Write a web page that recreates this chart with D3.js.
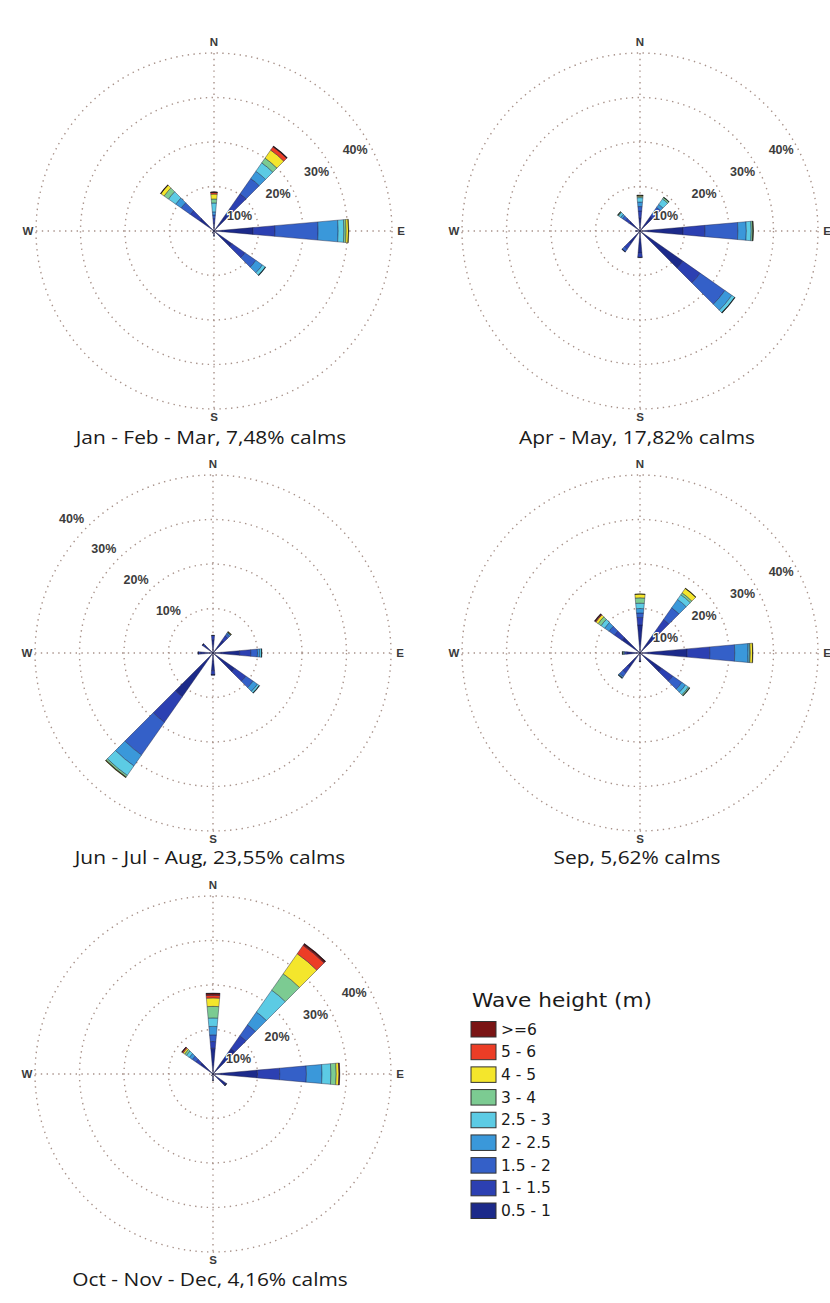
<!DOCTYPE html>
<html><head><meta charset="utf-8">
<script src="https://cdn.jsdelivr.net/npm/d3@7"></script>
<style>body{margin:0;background:#fff}svg{display:block}</style>
</head><body>
<svg id="c" width="830" height="1303"></svg>
<script>
// ---- data ----
const directions = ["N","NE","E","SE","S","SW","W","NW"];
const dirAngles = [0, 40, 90, 130, 180, 220, 270, 310];
const heightClasses = ["0.5 - 1","1 - 1.5","1.5 - 2","2 - 2.5","2.5 - 3","3 - 4","4 - 5","5 - 6",">=6"];
const classColors = ["#1c2a8a","#2c40b2","#3460c8","#3a98da","#5ccbe4","#7ccb92","#f4e62c","#ec3d26","#7a1414"];
const ringTicks = [10, 20, 30, 40];
const ringTickLabels = ["10%","20%","30%","40%"];
const compassLabels = ["N","E","S","W"];

// percent per direction (rows) per wave height class (cols)
const janFebMar = [
  [1.8, 1.0, 0.8, 0.7, 2.0, 0.9, 1.1, 0.4, 0.1],
  [6.0, 4.2, 4.2, 2.0, 2.3, 1.3, 2.2, 0.9, 0.2],
  [8.8, 4.9, 9.7, 4.5, 1.3, 0.5, 0.6, 0, 0],
  [5.0, 3.5, 3.0, 1.8, 0.9, 0, 0, 0, 0],
  [1.0, 0.2, 0, 0, 0, 0, 0, 0, 0],
  [0.6, 0, 0, 0, 0, 0, 0, 0, 0],
  [0.3, 0, 0, 0, 0, 0, 0, 0, 0],
  [4.0, 2.5, 2.5, 1.5, 2.0, 1.2, 0.9, 0.1, 0]
];
const aprMay = [
  [3.0, 1.5, 1.0, 1.0, 1.0, 0.3, 0.3, 0, 0],
  [4.0, 1.5, 1.0, 0.8, 1.5, 0.5, 0, 0, 0],
  [9.7, 4.9, 7.4, 1.9, 1.1, 0.4, 0.1, 0, 0],
  [11.8, 4.7, 6.8, 1.9, 0.8, 0.1, 0, 0, 0],
  [5.0, 1.0, 0, 0, 0, 0, 0, 0, 0],
  [3.5, 1.5, 0.8, 0, 0, 0, 0, 0, 0],
  [1.0, 0, 0, 0, 0, 0, 0, 0, 0],
  [3.0, 1.0, 0.8, 0.5, 0.6, 0.3, 0, 0, 0]
];
const junJulAug = [
  [3.0, 1.0, 0, 0, 0, 0, 0, 0, 0],
  [3.5, 1.2, 0.6, 0.3, 0, 0.1, 0.2, 0, 0],
  [6.0, 2.5, 1.5, 0.5, 0.5, 0, 0, 0, 0],
  [6.0, 3.0, 2.0, 1.2, 0.6, 0, 0, 0, 0],
  [4.0, 1.0, 0, 0, 0, 0, 0, 0, 0],
  [12.0, 7.0, 9.0, 3.0, 2.6, 0.4, 0.2, 0, 0],
  [2.8, 0.6, 0, 0, 0, 0, 0, 0, 0],
  [2.4, 0.6, 0, 0, 0, 0, 0, 0, 0]
];
const sep = [
  [6.3, 1.7, 1.0, 1.0, 1.2, 1.2, 0.9, 0, 0],
  [5.0, 4.2, 3.2, 2.3, 1.3, 0.5, 1.3, 0, 0],
  [10.6, 5.1, 5.6, 3.0, 0.3, 0.2, 0.6, 0, 0],
  [6.0, 3.0, 2.5, 1.0, 0.8, 0.4, 0, 0, 0],
  [2.0, 0, 0, 0, 0, 0, 0, 0, 0],
  [4.0, 1.5, 1.0, 0.3, 0.2, 0, 0, 0, 0],
  [3.0, 0.5, 0, 0, 0.2, 0.3, 0, 0, 0],
  [5.0, 2.0, 1.5, 1.2, 1.0, 0.8, 0.6, 0.2, 0.2]
];
const octNovDec = [
  [5.8, 1.5, 1.5, 1.9, 1.9, 2.6, 1.9, 0.6, 0.5],
  [7.0, 3.5, 3.0, 3.5, 6.0, 4.5, 5.5, 2.3, 0.5],
  [10.0, 5.0, 6.0, 3.5, 2.0, 1.2, 0.6, 0.2, 0],
  [3.5, 0.3, 0, 0, 0, 0, 0, 0, 0],
  [1.5, 0, 0, 0, 0, 0, 0, 0, 0],
  [0.5, 0, 0, 0, 0, 0, 0, 0, 0],
  [0.3, 0, 0, 0, 0, 0, 0, 0, 0],
  [3.5, 1.2, 1.0, 0.8, 0.8, 0.5, 0.4, 0.3, 0.1]
];
const seasonTitles = ["Jan - Feb - Mar, 7,48% calms","Apr - May, 17,82% calms","Jun - Jul - Aug, 23,55% calms","Sep, 5,62% calms","Oct - Nov - Dec, 4,16% calms"];
const seasonData = [janFebMar, aprMay, junJulAug, sep, octNovDec];
const legendTitle = "Wave height (m)";

// ---- layout ----
const roses = [
  {cx:214, cy:231, ty:444, lab:{ang:30, off:-15}},
  {cx:640, cy:231, ty:444, lab:{ang:30, off:-15}},
  {cx:213, cy:653, ty:864, lab:{ang:136.5, off:17}},
  {cx:640, cy:653, ty:864, lab:{ang:30, off:-15}},
  {cx:213, cy:1074, ty:1286, lab:{ang:30, off:-15}}
];
const R = 178;
const r = d3.scaleLinear().domain([0, 40]).range([0, R]);
const halfW = 5 * Math.PI / 180;

const svg = d3.select("#c");
const gridColor = "#a8928a";
const dots = "1.4,4.4";

roses.forEach((ro, i) => {
  const g = svg.append("g").attr("transform", `translate(${ro.cx},${ro.cy})`);
  // rings
  g.selectAll("circle.ring").data(ringTicks).join("circle")
    .attr("r", d => r(d)).attr("fill", "none")
    .attr("stroke", gridColor).attr("stroke-width", 1.4)
    .attr("stroke-dasharray", dots);
  // cross lines
  g.append("line").attr("x1", -R).attr("x2", R).attr("y1", 0).attr("y2", 0)
    .attr("stroke", gridColor).attr("stroke-width", 1.4).attr("stroke-dasharray", dots);
  g.append("line").attr("y1", -R).attr("y2", R).attr("x1", 0).attr("x2", 0)
    .attr("stroke", gridColor).attr("stroke-width", 1.4).attr("stroke-dasharray", dots);
  // compass labels
  const cpos = {N:[0,-189], E:[187,0], S:[0,186], W:[-186,0]};
  g.selectAll("text.cmp").data(compassLabels).join("text")
    .attr("x", d => cpos[d][0]).attr("y", d => cpos[d][1])
    .attr("text-anchor", "middle").attr("dominant-baseline", "central")
    .attr("font-family", "Liberation Sans, Arial, sans-serif").attr("font-size", 11.5)
    .attr("font-weight", "bold").attr("fill", "#3a3a3a").text(d => d);

  // bars
  const data = seasonData[i];
  const arc = d3.arc();
  data.forEach((row, di) => {
    const a = dirAngles[di] * Math.PI / 180;
    let cum = 0;
    const segs = [];
    row.forEach((v, ci) => {
      if (v > 0) { segs.push({inner: cum, outer: cum + v, ci}); }
      cum += v;
    });
    g.selectAll(null).data(segs).join("path")
      .attr("d", s => arc({innerRadius: r(s.inner), outerRadius: r(s.outer), startAngle: a - halfW, endAngle: a + halfW}))
      .attr("fill", s => classColors[s.ci])
      .attr("stroke", "#1b1b3a").attr("stroke-width", 0.6).attr("stroke-opacity", 0.7);
    if (segs.length) {
      const tot = cum;
      g.append("path")
        .attr("d", d3.arc()({innerRadius: r(tot) - 0.8, outerRadius: r(tot), startAngle: a - halfW, endAngle: a + halfW}))
        .attr("fill", "#1a1a1a");
    }
  });

  // ring labels
  const la = ro.lab.ang * Math.PI / 180;
  g.selectAll("text.rl").data(ringTicks).join("text")
    .attr("x", d => (r(d) + ro.lab.off) * Math.cos(la))
    .attr("y", d => -(r(d) + ro.lab.off) * Math.sin(la))
    .attr("text-anchor", "middle").attr("dominant-baseline", "central")
    .attr("font-family", "Liberation Sans, Arial, sans-serif").attr("font-size", 12.5)
    .attr("font-weight", "bold").attr("fill", "#3c3c3c")
    .attr("stroke", "#fff").attr("stroke-width", 2).attr("paint-order", "stroke")
    .text((d, k) => ringTickLabels[k]);

  // title (slightly widened like the source)
  const t = svg.append("text").attr("x", ro.cx - 3).attr("y", ro.ty)
    .attr("text-anchor", "middle")
    .attr("font-family", "Open Sans, sans-serif").attr("font-size", 18.5)
    .attr("fill", "#1a1a1a").text(seasonTitles[i]);
  const w = t.node().getComputedTextLength();
  t.attr("textLength", w * 1.13).attr("lengthAdjust", "spacingAndGlyphs");
});

// legend
const lg = svg.append("g").attr("transform", "translate(471,0)");
lg.append("text").attr("x", 1).attr("y", 1007)
  .attr("font-family", "DejaVu Sans, sans-serif").attr("font-size", 19.5)
  .attr("fill", "#1a1a1a").attr("textLength", 180).attr("lengthAdjust", "spacingAndGlyphs")
  .text(legendTitle);
const legendOrder = d3.range(heightClasses.length).reverse();
const ly = d3.scaleLinear().domain([0, 8]).range([1021.5, 1203]);
lg.selectAll("rect.lb").data(legendOrder).join("rect")
  .attr("x", 0).attr("y", (d, k) => ly(k)).attr("width", 25).attr("height", 15.5)
  .attr("fill", d => classColors[d]).attr("stroke", "#333").attr("stroke-width", 1);
lg.selectAll("text.lt").data(legendOrder).join("text")
  .attr("x", 30).attr("y", (d, k) => ly(k) + 8)
  .attr("dominant-baseline", "central")
  .attr("font-family", "DejaVu Sans, sans-serif").attr("font-size", 15.5)
  .attr("fill", "#1a1a1a").text(d => heightClasses[d]);
</script>
</body></html>
